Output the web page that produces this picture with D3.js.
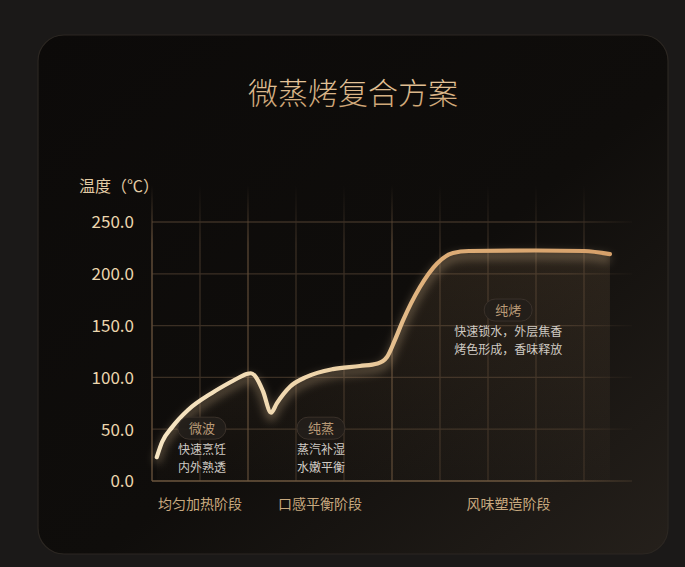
<!DOCTYPE html>
<html><head><meta charset="utf-8">
<script src="https://cdn.jsdelivr.net/npm/d3@7/dist/d3.min.js"></script>
<style>
html,body{margin:0;padding:0;background:#1b1918;}
svg{display:block;}
text{font-family:"Noto Sans CJK SC","Noto Sans",sans-serif;}
</style></head>
<body>
<svg id="c" width="685" height="567"></svg>
<script>
// ---- data ----
const title = "微蒸烤复合方案";
const yAxisLabel = "温度（℃）";
const yTicks = [0, 50, 100, 150, 200, 250];
const stageNames = ["均匀加热阶段", "口感平衡阶段", "风味塑造阶段"];
const stageStart = [0, 2, 5];
const stageEnd = [2, 5, 9.85];
const modeNames = ["微波", "纯蒸", "纯烤"];
const modeX = [1.04, 3.52, 7.42];
const modeY = [51, 51, 165];
const modeDesc = [["快速烹饪", "内外熟透"], ["蒸汽补湿", "水嫩平衡"], ["快速锁水，外层焦香", "烤色形成，香味释放"]];
const timeX = [0.1, 0.21, 0.42, 0.75, 1.25, 1.67, 1.85, 1.97, 2.06, 2.17, 2.31, 2.48, 2.6, 2.875, 3.22, 3.77, 4.33, 4.7, 4.9, 5.06, 5.23, 5.58, 5.94, 6.27, 6.6, 8.0, 9.0, 9.54];
const tempY = [23, 37.6, 52, 68.5, 85, 96.3, 100.8, 103.2, 104, 100, 87, 66, 75, 91, 100.5, 108, 111, 113.5, 120, 136, 155, 187, 210, 220, 222, 222.5, 222, 219];

// ---- drawing ----
const svg = d3.select("#c");
const W = 685, H = 567;
const defs = svg.append("defs");

const bgGrad = defs.append("linearGradient").attr("id","cardBg").attr("x1","0").attr("y1","0").attr("x2","1").attr("y2","1");
bgGrad.append("stop").attr("offset","0").attr("stop-color","#0c0a09");
bgGrad.append("stop").attr("offset","0.55").attr("stop-color","#0f0d0b");
bgGrad.append("stop").attr("offset","1").attr("stop-color","#25201b");

const titleGrad = defs.append("linearGradient").attr("id","titleG").attr("x1","0").attr("y1","0").attr("x2","0").attr("y2","1");
titleGrad.append("stop").attr("offset","0").attr("stop-color","#f0d3aa");
titleGrad.append("stop").attr("offset","1").attr("stop-color","#c99e6c");

const lineGrad = defs.append("linearGradient").attr("id","lineG").attr("gradientUnits","userSpaceOnUse")
  .attr("x1",152).attr("y1",0).attr("x2",612).attr("y2",0);
lineGrad.append("stop").attr("offset","0").attr("stop-color","#f7e6c4");
lineGrad.append("stop").attr("offset","0.45").attr("stop-color","#ecd0a4");
lineGrad.append("stop").attr("offset","0.6").attr("stop-color","#deae78");
lineGrad.append("stop").attr("offset","1").attr("stop-color","#d6a06a");

const areaGrad = defs.append("linearGradient").attr("id","areaG").attr("x1","0").attr("y1","0").attr("x2","0").attr("y2","1");
areaGrad.append("stop").attr("offset","0").attr("stop-color","#b08a60").attr("stop-opacity",0.15);
areaGrad.append("stop").attr("offset","1").attr("stop-color","#b08a60").attr("stop-opacity",0.02);

const gridC = "#3b2f24", gridB = "#5e4a36";
const hFade = defs.append("linearGradient").attr("id","hFade").attr("gradientUnits","userSpaceOnUse")
  .attr("x1",152).attr("y1",0).attr("x2",640).attr("y2",0);
hFade.append("stop").attr("offset","0").attr("stop-color",gridC);
hFade.append("stop").attr("offset","0.85").attr("stop-color",gridC);
hFade.append("stop").attr("offset","1").attr("stop-color",gridC).attr("stop-opacity",0);

const vFade = defs.append("linearGradient").attr("id","vFade").attr("gradientUnits","userSpaceOnUse")
  .attr("x1",0).attr("y1",185).attr("x2",0).attr("y2",481);
vFade.append("stop").attr("offset","0").attr("stop-color",gridC).attr("stop-opacity",0);
vFade.append("stop").attr("offset","0.2").attr("stop-color",gridC);
vFade.append("stop").attr("offset","1").attr("stop-color",gridC);

const vFadeB = defs.append("linearGradient").attr("id","vFadeB").attr("gradientUnits","userSpaceOnUse")
  .attr("x1",0).attr("y1",185).attr("x2",0).attr("y2",481);
vFadeB.append("stop").attr("offset","0").attr("stop-color",gridB).attr("stop-opacity",0);
vFadeB.append("stop").attr("offset","0.2").attr("stop-color",gridB);
vFadeB.append("stop").attr("offset","1").attr("stop-color",gridB);

const xFade = defs.append("linearGradient").attr("id","xFade").attr("gradientUnits","userSpaceOnUse")
  .attr("x1",152).attr("y1",0).attr("x2",640).attr("y2",0);
xFade.append("stop").attr("offset","0").attr("stop-color","#6b553d");
xFade.append("stop").attr("offset","0.8").attr("stop-color","#6b553d");
xFade.append("stop").attr("offset","1").attr("stop-color","#6b553d").attr("stop-opacity",0.2);

const glow = defs.append("filter").attr("id","glow").attr("x","-10%").attr("y","-20%").attr("width","120%").attr("height","160%");
glow.append("feGaussianBlur").attr("stdDeviation",4);

// card
svg.append("rect").attr("width",W).attr("height",H).attr("fill","#1b1918");
svg.append("rect").attr("x",38).attr("y",35).attr("width",630).attr("height",519).attr("rx",26)
  .attr("fill","url(#cardBg)").attr("stroke","#2c2722").attr("stroke-width",1.2);

// title
svg.append("text").attr("x",353).attr("y",104).attr("text-anchor","middle")
  .attr("font-size",30).attr("font-weight",300).attr("fill","url(#titleG)").text(title);

const x = d3.scaleLinear().domain([0,10]).range([152,632]);
const y = d3.scaleLinear().domain([0,250]).range([481,222]);

// grid
const g = svg.append("g");
g.selectAll(".hg").data(yTicks.filter(d=>d>0)).join("line")
  .attr("x1",x(0)).attr("x2",x(10)).attr("y1",d=>y(d)).attr("y2",d=>y(d))
  .attr("stroke","url(#hFade)").attr("stroke-width",1.3);
const vTicks = d3.range(1,10);
const boundaries = stageStart.slice(1);
g.selectAll(".vg").data(vTicks).join("line")
  .attr("x1",d=>x(d)).attr("x2",d=>x(d)+0.01).attr("y1",185).attr("y2",y(0))
  .attr("stroke",d=>boundaries.includes(d)?"url(#vFadeB)":"url(#vFade)").attr("stroke-width",1.2);
// axes
g.append("line").attr("x1",x(0)).attr("x2",x(0)+0.01).attr("y1",183).attr("y2",y(0)).attr("stroke","url(#vFadeB)").attr("stroke-width",1.5);
g.append("line").attr("x1",x(0)).attr("x2",x(10)).attr("y1",y(0)).attr("y2",y(0)+0.01).attr("stroke","url(#xFade)").attr("stroke-width",1.5);

// y ticks labels
const yAxis = d3.axisLeft(y).tickValues(yTicks).tickFormat(d3.format(".1f")).tickSize(0).tickPadding(18);
const ya = svg.append("g").attr("transform",`translate(${x(0)},0)`).call(yAxis);
ya.select(".domain").remove();
ya.selectAll("text").attr("font-family","'Noto Sans',sans-serif").attr("font-size",17).attr("fill","#ecd6ae").attr("dy","0.35em");

svg.append("text").attr("x",79).attr("y",192).attr("font-size",16).attr("fill","#e2cba5").text(yAxisLabel);

// stage labels
svg.selectAll(".st").data(stageNames).join("text")
  .attr("x",(d,i)=>x((stageStart[i]+stageEnd[i])/2)).attr("y",509)
  .attr("text-anchor","middle").attr("font-size",14).attr("fill","#c8a97f").text(d=>d);

// curve
const pts = timeX.map((t,i)=>[t,tempY[i]]);
const curve = d3.curveMonotoneX;
const area = d3.area().x(d=>x(d[0])).y0(y(0)).y1(d=>y(d[1])).curve(curve);
svg.append("path").datum(pts).attr("d",area).attr("fill","url(#areaG)");
const line = d3.line().x(d=>x(d[0])).y(d=>y(d[1])).curve(curve);
svg.append("path").datum(pts).attr("d",line).attr("fill","none")
  .attr("stroke","#e8c89a").attr("stroke-opacity",0.3).attr("stroke-width",8)
  .attr("transform","translate(0,5)").attr("filter","url(#glow)");
svg.append("path").datum(pts).attr("d",line).attr("fill","none")
  .attr("stroke","url(#lineG)").attr("stroke-width",4.2).attr("stroke-linecap","round").attr("stroke-linejoin","round");

// mode pills
modeNames.forEach((m,i)=>{
  const cx = x(modeX[i]), cy = y(modeY[i]);
  svg.append("rect").attr("x",cx-24).attr("y",cy-11).attr("width",48).attr("height",22).attr("rx",11)
    .attr("fill","#231e1a").attr("fill-opacity",0.92).attr("stroke","#3a312a").attr("stroke-width",1);
  svg.append("text").attr("x",cx).attr("y",cy).attr("dy","0.36em").attr("text-anchor","middle")
    .attr("font-size",13).attr("fill","#b99a77").text(m);
  modeDesc[i].forEach((d,j)=>{
    svg.append("text").attr("x",cx).attr("y",cy+26+j*17.5).attr("text-anchor","middle")
      .attr("font-size",12).attr("fill","#cfcac3").text(d);
  });
});
</script>
</body></html>
